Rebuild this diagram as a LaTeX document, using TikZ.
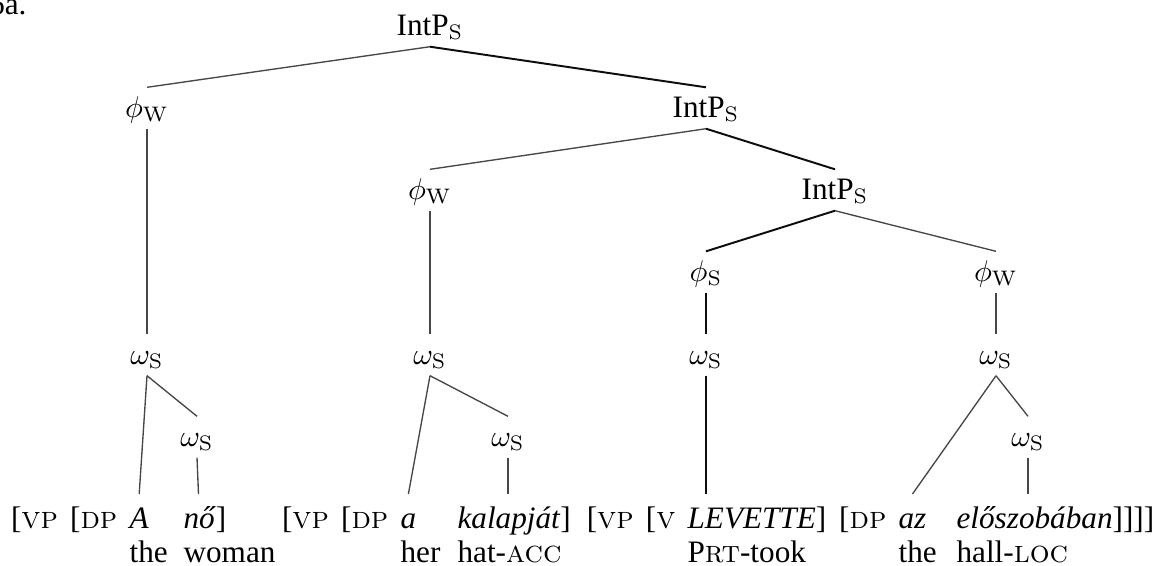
\documentclass[tikz,border=0pt]{standalone}
\usepackage[no-math]{fontspec}
\setmainfont{Liberation Serif}
\usetikzlibrary{calc}
% Latin Modern small caps for category labels and glosses
\newcommand\lsc[1]{{\fontfamily{lmr}\selectfont\scshape #1}}
\begin{document}
\begin{tikzpicture}[x=0.33333pt, y=-0.33333pt,
  font=\fontsize{10.4}{12.5}\selectfont,
  tn/.style={inner sep=0pt, text height=9.7pt, text depth=3.7pt, anchor=base},
  wd/.style={inner sep=0pt, anchor=base west},
  lb/.style={inner sep=0pt, anchor=base east},
  br/.style={draw=black!72, line width=0.45pt},
  strong/.style={draw=black!95, line width=0.65pt}]
\useasboundingbox (0,0) rectangle (1167,565);

% example number
\node[anchor=base east, inner sep=0pt] (ex) at (27,14) {6a.};

% prosodic tree
\node[tn] (r)   at (430,35)  {IntP$_{\mathrm{S}}$};
\node[tn] (p1)  at (147,117) {$\phi_{\mathrm{W}}$};
\node[tn] (i2)  at (706,117) {IntP$_{\mathrm{S}}$};
\node[tn] (p2)  at (430,199) {$\phi_{\mathrm{W}}$};
\node[tn] (i3)  at (835,199) {IntP$_{\mathrm{S}}$};
\node[tn] (p3)  at (706,281) {$\phi_{\mathrm{S}}$};
\node[tn] (p4)  at (996,281) {$\phi_{\mathrm{W}}$};
\node[tn] (o1)  at (147,364) {$\omega_{\mathrm{S}}$};
\node[tn] (o2)  at (430,364) {$\omega_{\mathrm{S}}$};
\node[tn] (o3)  at (706,364) {$\omega_{\mathrm{S}}$};
\node[tn] (o4)  at (996,364) {$\omega_{\mathrm{S}}$};
\node[tn] (o1b) at (197,446) {$\omega_{\mathrm{S}}$};
\node[tn] (o2b) at (508,446) {$\omega_{\mathrm{S}}$};
\node[tn] (o4b) at (1028,446) {$\omega_{\mathrm{S}}$};

% Hungarian words (baseline 528) with glosses left-aligned below (baseline 562)
\node[wd] (w3)  at (129,528) {\textit{A}};
\node[wd] (g3)  at (129,562) {the};
\node[wd] (w4)  at (183,528) {\textit{nő}]};
\node[wd] (g4)  at (183,562) {woman};
\node[wd] (w7)  at (400,528) {\textit{a}};
\node[wd] (g7)  at (400,562) {her};
\node[wd] (w8)  at (457,528) {\textit{kalapját}]};
\node[wd] (g8)  at (457,562) {hat-\lsc{acc}};
\node[wd] (w11) at (687,528) {\textit{LEVETTE}]};
\node[wd] (g11) at (687,562) {P\lsc{rt}-took};
\node[wd] (w13) at (898,528) {\textit{az}};
\node[wd] (g13) at (898,562) {the};
\node[wd] (w14) at (956,528) {\textit{előszobában}]]]]};
\node[wd] (g14) at (956,562) {hall-\lsc{loc}};

% labelled brackets, set leftwards from the word they open
\node[lb] (w2)  at ($(w3.base west)+(-11,0)$)  {[\lsc{dp}};
\node[lb] (w1)  at ($(w2.base west)+(-11,0)$)  {[\lsc{vp}};
\node[lb] (w6)  at ($(w7.base west)+(-11,0)$)  {[\lsc{dp}};
\node[lb] (w5)  at ($(w6.base west)+(-11,0)$)  {[\lsc{vp}};
\node[lb] (w10) at ($(w11.base west)+(-11,0)$) {[\lsc{v}};
\node[lb] (w9)  at ($(w10.base west)+(-11,0)$) {[\lsc{vp}};
\node[lb] (w12) at ($(w13.base west)+(-11,0)$) {[\lsc{dp}};

% attachment points above the words
\coordinate (eA)   at ($(w3.base)+(0,-34)$);
\coordinate (eno)  at ($(w4.base west)+(15.5,-34)$);
\coordinate (ea)   at ($(w7.base)+(0,-34)$);
\coordinate (ekal) at ($(w8.base west)+(51,-34)$);
\coordinate (elev) at ($(w11.base west)+(19,-34)$);
\coordinate (eaz)  at ($(w13.base)+(0,-34)$);
\coordinate (eelo) at ($(w14.base west)+(72,-34)$);

% branches; the path of main prominence is drawn heavier
\draw[br]     (r.south) -- (p1.north);
\draw[strong] (r.south) -- (i2.north);
\draw[br]     (i2.south) -- (p2.north);
\draw[strong] (i2.south) -- (i3.north);
\draw[strong] (i3.south) -- (p3.north);
\draw[br]     (i3.south) -- (p4.north);
\draw[br]     (p1.south) -- (o1.north);
\draw[br]     (p2.south) -- (o2.north);
\draw[strong] (p3.south) -- (o3.north);
\draw[br]     (p4.south) -- (o4.north);
\draw[br]     (o1.south) -- (eA);
\draw[br]     (o1.south) -- (o1b.north);
\draw[br]     (o1b.south) -- (eno);
\draw[br]     (o2.south) -- (ea);
\draw[br]     (o2.south) -- (o2b.north);
\draw[br]     (o2b.south) -- (ekal);
\draw[strong] (o3.south) -- (elev);
\draw[br]     (o4.south) -- (eaz);
\draw[br]     (o4.south) -- (o4b.north);
\draw[br]     (o4b.south) -- (eelo);
\end{tikzpicture}
\end{document}
